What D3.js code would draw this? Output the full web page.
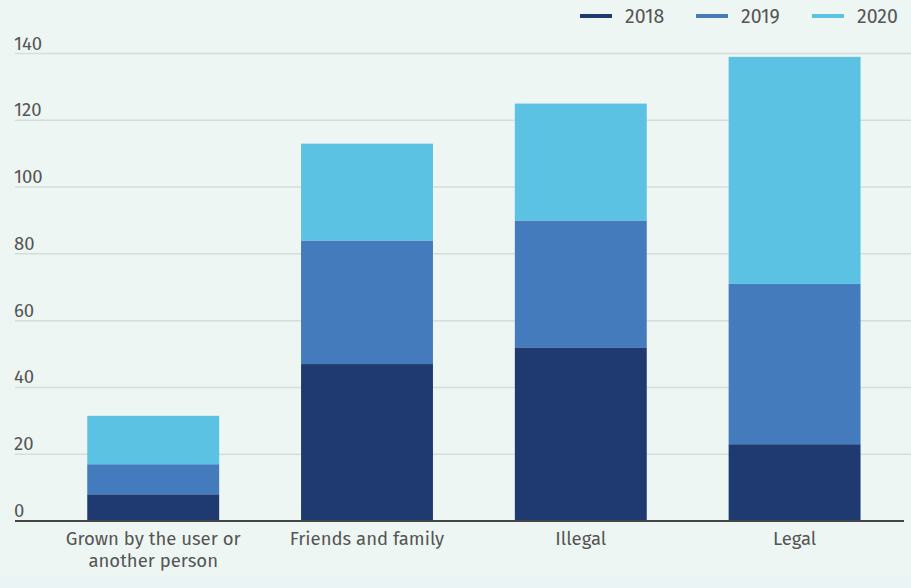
<!DOCTYPE html>
<html>
<head>
<meta charset="utf-8">
<script src="https://cdn.jsdelivr.net/npm/d3@7"></script>
<style>
  html, body { margin: 0; padding: 0; background: #eef6f3; }
  svg { display: block; }
  text { font-family: "Fira Sans", "Open Sans", sans-serif; fill: #555; }
</style>
</head>
<body>
<svg id="chart" width="911" height="588"></svg>
<script>
// Source categories (x axis)
const categories = ["Grown by the user or another person", "Friends and family", "Illegal", "Legal"];
// Yearly series, stacked bottom to top
const years = ["2018", "2019", "2020"];
const values2018 = [8, 47, 52, 23];
const values2019 = [9, 37, 38, 48];
const values2020 = [14.5, 29, 35, 68];
const yTicks = [0, 20, 40, 60, 80, 100, 120, 140];
const colors = ["#1f3a70", "#437bbd", "#5bc2e3"];

const rows = categories.map((c, i) => ({
  category: c,
  "2018": values2018[i],
  "2019": values2019[i],
  "2020": values2020[i]
}));

const W = 911, H = 588;
const svg = d3.select("#chart");

// bottom band
svg.append("rect").attr("x", 0).attr("y", 575).attr("width", W).attr("height", H - 575)
  .attr("fill", "#eaf4f4");

const x = d3.scaleBand().domain(categories).range([44.5, 903.3])
  .paddingInner(0.383).paddingOuter(0.2);
const y = d3.scaleLinear().domain([0, 140]).range([521, 53.5]);
const color = d3.scaleOrdinal().domain(years).range(colors);

// gridlines + y labels
const grid = svg.append("g");
grid.selectAll("line").data(yTicks.filter(d => d > 0)).join("line")
  .attr("x1", 15).attr("x2", W)
  .attr("y1", d => y(d)).attr("y2", d => y(d))
  .attr("stroke", "#d3dedb").attr("stroke-width", 1.5);
grid.selectAll("text").data(yTicks).join("text")
  .attr("x", 14).attr("y", d => y(d) - 4)
  .attr("font-size", 18.5)
  .text(d => d);

// stacked bars
const series = d3.stack().keys(years)(rows);
svg.append("g").selectAll("g").data(series).join("g")
  .attr("fill", d => color(d.key))
  .selectAll("rect").data(d => d).join("rect")
  .attr("x", d => x(d.data.category))
  .attr("width", x.bandwidth())
  .attr("y", d => y(d[1]))
  .attr("height", d => y(d[0]) - y(d[1]));

// baseline
svg.append("line").attr("x1", 15).attr("x2", 904)
  .attr("y1", y(0)).attr("y2", y(0))
  .attr("stroke", "#444").attr("stroke-width", 2);

// x axis labels, wrapped
function wrapLines(text, maxW, fontSize) {
  const probe = svg.append("text").attr("font-size", fontSize);
  const words = text.split(" ");
  const lines = [];
  let line = [];
  for (const w of words) {
    line.push(w);
    probe.text(line.join(" "));
    if (probe.node().getComputedTextLength() > maxW && line.length > 1) {
      line.pop();
      lines.push(line.join(" "));
      line = [w];
    }
  }
  lines.push(line.join(" "));
  probe.remove();
  return lines;
}
const xl = svg.append("g");
categories.forEach(c => {
  const t = xl.append("text")
    .attr("text-anchor", "middle")
    .attr("font-size", 18.5)
    .attr("x", x(c) + x.bandwidth() / 2)
    .attr("y", 545);
  wrapLines(c, 200, 18.5).forEach((l, i) => {
    t.append("tspan").attr("x", x(c) + x.bandwidth() / 2)
      .attr("dy", i === 0 ? 0 : 22).text(l);
  });
});

// legend
const legendX = [580, 696, 812];
const lg = svg.append("g");
years.forEach((yr, i) => {
  lg.append("line").attr("x1", legendX[i]).attr("x2", legendX[i] + 32)
    .attr("y1", 16).attr("y2", 16)
    .attr("stroke", color(yr)).attr("stroke-width", 4);
  lg.append("text").attr("x", legendX[i] + 45).attr("y", 23)
    .attr("font-size", 19.5).text(yr);
});
</script>
</body>
</html>
